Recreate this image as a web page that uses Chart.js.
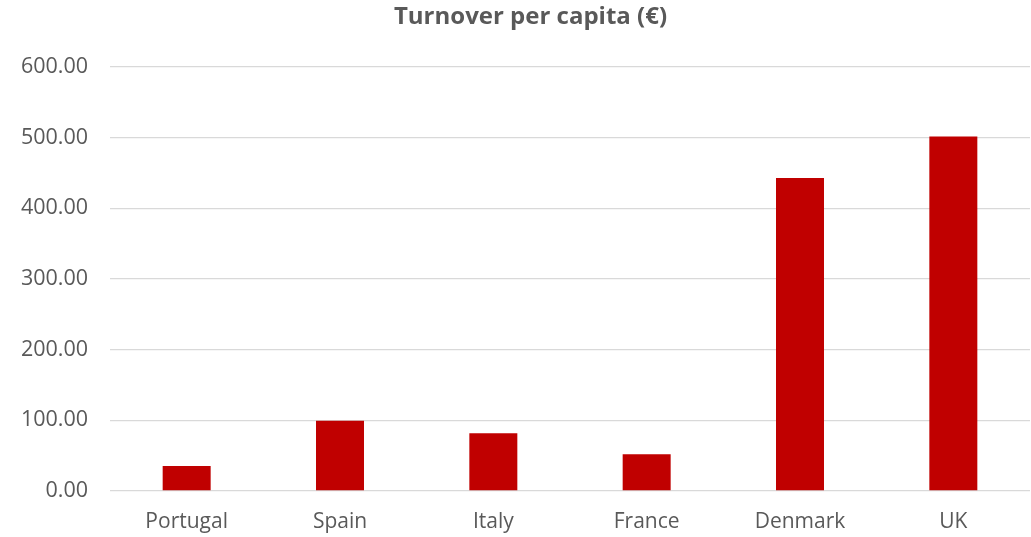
<!DOCTYPE html>
<html>
<head>
<meta charset="utf-8">
<script src="https://cdn.jsdelivr.net/npm/chart.js@4/dist/chart.umd.min.js"></script>
<style>
html,body{margin:0;padding:0;background:#fff;}
canvas{display:block;}
</style>
</head>
<body>
<canvas id="c" width="1031" height="537"></canvas>
<script>
const categories = ["Portugal", "Spain", "Italy", "France", "Denmark", "UK"];
const turnover = [35.4, 99.5, 81.6, 51.9, 442.7, 501.5];
const yTicks = [0, 100, 200, 300, 400, 500, 600];

const textColor = "#595959";
const gridColor = "#d9d9d9";
const fontFamily = "'Open Sans', 'Noto Sans', sans-serif";

// centre the title over the plot region (slightly right of canvas centre)
const centerTitle = {
  id: "centerTitle",
  afterLayout(chart) {
    const t = chart.titleBlock;
    if (t) { t.left = 30; t.right = chart.width; }
  }
};

new Chart(document.getElementById("c"), {
  type: "bar",
  data: {
    labels: categories,
    datasets: [{
      label: "Turnover per capita (€)",
      data: turnover,
      backgroundColor: "#C00000",
      borderWidth: 0,
      barPercentage: 1,
      categoryPercentage: 0.313
    }]
  },
  plugins: [centerTitle],
  options: {
    responsive: false,
    animation: false,
    devicePixelRatio: 1,
    layout: { padding: { left: 20, right: 1, top: 3, bottom: 0 } },
    plugins: {
      legend: { display: false },
      tooltip: { enabled: false },
      title: {
        display: true,
        text: "Turnover per capita (€)",
        color: textColor,
        font: { family: fontFamily, size: 24, weight: "bold" },
        padding: { top: 0, bottom: 35 }
      }
    },
    scales: {
      x: {
        grid: { display: false, drawTicks: false },
        border: { display: false },
        ticks: {
          color: textColor,
          font: { family: fontFamily, size: 21 },
          padding: 18,
          maxRotation: 0
        },
        afterFit: (s) => { s.height = 46; }
      },
      y: {
        min: 0,
        max: 600,
        afterBuildTicks: (s) => { s.ticks = yTicks.map(v => ({ value: v })); },
        grid: { color: gridColor, lineWidth: 1.3, drawTicks: false },
        border: { display: false },
        ticks: {
          color: textColor,
          font: { family: fontFamily, size: 21.5 },
          padding: 22,
          callback: (v) => Number(v).toFixed(2)
        },
        afterFit: (s) => { s.width = 90; }
      }
    }
  }
});
</script>
</body>
</html>
